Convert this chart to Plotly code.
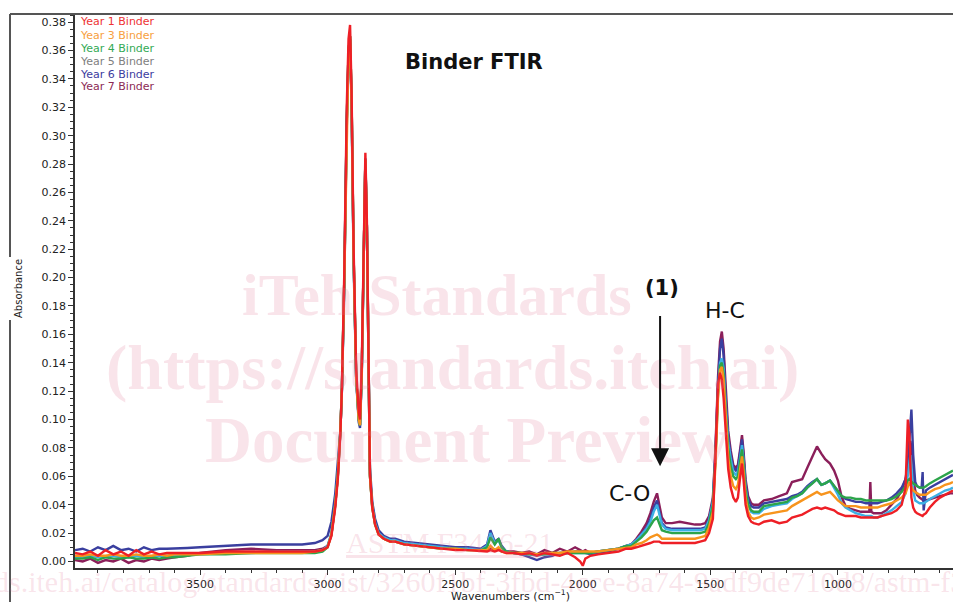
import plotly.graph_objects as go

# ---------------- data ----------------
wavenumber = [
    3990, 3960, 3930, 3900, 3870, 3840, 3810, 3780, 3750, 3720, 3690, 3660, 3630, 3600,
    3550, 3500, 3400, 3300, 3200, 3100, 3050, 3020,
    3000, 2985, 2970, 2960, 2950, 2944, 2935, 2925, 2918, 2912, 2906, 2898, 2888, 2878, 2873, 2866, 2858, 2852,
    2846, 2840, 2834, 2825, 2814, 2800, 2780, 2755, 2735, 2700, 2650, 2600, 2550, 2500, 2450, 2400,
    2375, 2362, 2345, 2330, 2318, 2300,
    2270, 2240, 2210, 2180, 2150, 2120, 2090, 2060, 2030, 2010, 2000, 1990, 1970, 1940, 1900, 1860, 1830,
    1810, 1790, 1770, 1750, 1735, 1722, 1709, 1700, 1690, 1675, 1650, 1620, 1590, 1560, 1540, 1520, 1505,
    1490, 1480, 1470, 1462, 1455, 1448, 1440, 1430, 1420, 1410, 1400, 1392, 1384, 1376, 1370, 1362, 1352, 1340, 1330,
    1310, 1290, 1260, 1230, 1200, 1180, 1160, 1140, 1120, 1100, 1082, 1065, 1050, 1031, 1015, 1000, 985, 970,
    950, 930, 910, 890, 877, 873, 869, 860, 845, 830, 810, 790, 770, 750, 735, 726, 720, 716, 712, 705, 697,
    690, 680, 672, 668, 664, 655, 640, 620, 600, 580, 560, 549,
]

year1 = [
    .006, .005, .007, .004, .008, .005, .007, .004, .008, .005, .007, .005, .006, .006,
    .006, .006, .007, .007, .007, .007, .007, .008,
    .010, .018, .038, .058, .090, .122, .200, .320, .368, .378, .330, .220, .135, .105, .100, .140, .235, .288,
    .240, .150, .062, .038, .026, .019, .016, .014, .014, .012, .011, .010, .009, .008, .008, .007,
    .007, .008, .007, .008, .007, .006,
    .006, .005, .006, .004, .006, .005, .004, .006, .003, .000, -.003, .002, .004, .005, .006, .007, .009,
    .009, .010, .011, .012, .013, .014, .014, .014, .013, .013, .013, .013, .013, .013, .014, .015, .020,
    .030, .075, .125, .133, .128, .115, .090, .065, .052, .045, .042, .045, .058, .069, .058, .040, .032, .028, .027,
    .026, .028, .029, .027, .028, .031, .032, .033, .035, .037, .038, .037, .038, .037, .036, .034, .033, .032,
    .032, .032, .031, .031, .031, .031, .031, .031, .031, .032, .033, .034, .036, .040, .052, .100, .090, .060, .045, .038, .035,
    .034, .033, .032, .032, .033, .034, .038, .042, .045, .047, .049, .050,
]

year3 = [
    .004, .004, .005, .004, .004, .005, .004, .004, .005, .004, .004, .005, .004, .005,
    .005, .005, .006, .006, .006, .006, .007, .008,
    .010, .019, .040, .060, .092, .122, .195, .310, .360, .370, .325, .215, .130, .100, .096, .135, .230, .283,
    .235, .145, .060, .038, .026, .019, .016, .014, .014, .012, .011, .010, .009, .009, .008, .008,
    .008, .011, .008, .010, .007, .006,
    .006, .006, .006, .005, .006, .006, .006, .007, .007, .007, .007, .007, .007, .007, .008, .009, .010,
    .010, .012, .013, .015, .017, .018, .019, .018, .016, .016, .016, .016, .016, .016, .017, .018, .024,
    .035, .068, .115, .135, .137, .128, .100, .073, .060, .053, .051, .054, .064, .074, .064, .045, .035, .031, .030,
    .031, .033, .034, .035, .036, .039, .041, .043, .045, .047, .049, .047, .048, .049, .046, .043, .041, .039,
    .039, .039, .038, .038, .038, .038, .038, .038, .038, .039, .040, .041, .043, .045, .048, .052, .056, .054, .052, .050, .049,
    .048, .047, .047, .047, .047, .047, .049, .051, .052, .054, .055, .056,
]

year4 = [
    .002, .002, .003, .001, .003, .002, .002, .003, .002, .002, .003, .002, .003, .003,
    .004, .005, .005, .006, .006, .006, .006, .007,
    .010, .019, .040, .060, .092, .122, .195, .310, .360, .370, .325, .215, .130, .100, .096, .135, .230, .283,
    .235, .145, .060, .038, .026, .019, .016, .014, .014, .012, .011, .010, .009, .009, .008, .008,
    .010, .017, .012, .016, .010, .007,
    .006, .006, .005, .005, .005, .006, .006, .006, .006, .006, .006, .006, .006, .007, .008, .009, .011,
    .011, .014, .017, .021, .025, .029, .031, .027, .022, .021, .020, .020, .020, .020, .020, .021, .027,
    .040, .072, .118, .138, .140, .132, .106, .080, .067, .060, .058, .060, .070, .079, .069, .050, .040, .036, .035,
    .035, .039, .040, .041, .042, .045, .046, .048, .052, .055, .058, .054, .055, .057, .053, .050, .046, .045,
    .045, .044, .044, .043, .043, .043, .043, .043, .043, .043, .043, .044, .046, .049, .053, .057, .058, .057, .056, .055, .054,
    .053, .052, .052, .052, .052, .053, .055, .057, .059, .061, .063, .064,
]

year5 = [
    .003, .003, .004, .003, .003, .004, .003, .003, .004, .003, .003, .004, .004, .004,
    .005, .005, .006, .006, .007, .007, .007, .008,
    .011, .020, .041, .061, .092, .122, .195, .310, .360, .370, .325, .215, .130, .100, .096, .135, .230, .283,
    .235, .146, .061, .039, .027, .020, .017, .015, .015, .013, .012, .011, .010, .009, .009, .008,
    .011, .020, .013, .015, .010, .007,
    .006, .005, .005, .004, .005, .005, .005, .006, .006, .006, .006, .006, .006, .007, .008, .009, .011,
    .012, .015, .019, .023, .028, .035, .040, .033, .026, .023, .022, .022, .022, .022, .022, .023, .029,
    .042, .074, .120, .140, .143, .136, .110, .084, .072, .063, .061, .063, .072, .082, .071, .052, .040, .035, .034,
    .034, .037, .039, .040, .041, .044, .046, .048, .052, .055, .058, .054, .055, .057, .052, .047, .041, .038,
    .036, .034, .033, .032, .032, .032, .032, .031, .031, .032, .034, .036, .039, .042, .048, .060, .070, .075, .068, .050, .043,
    .042, .041, .041, .041, .041, .042, .044, .046, .048, .050, .051, .052,
]

year6 = [
    .008, .009, .007, .010, .008, .011, .008, .009, .007, .010, .008, .009, .009, .009,
    .0095, .010, .011, .012, .012, .012, .013, .015,
    .018, .028, .048, .068, .092, .120, .190, .305, .355, .368, .320, .210, .128, .098, .094, .132, .225, .284,
    .236, .148, .066, .042, .030, .022, .018, .016, .016, .014, .013, .012, .011, .010, .010, .009,
    .012, .022, .014, .016, .011, .007,
    .006, .005, .003, .001, .003, .004, .006, .006, .007, .007, .007, .006, .005, .006, .007, .009, .011,
    .012, .015, .019, .024, .030, .038, .043, .035, .027, .024, .023, .023, .023, .023, .023, .024, .030,
    .043, .076, .125, .150, .157, .145, .116, .088, .075, .066, .064, .066, .076, .086, .075, .055, .044, .039, .038,
    .038, .041, .042, .043, .044, .046, .047, .049, .053, .056, .058, .054, .055, .057, .053, .050, .046, .044,
    .043, .042, .042, .041, .041, .041, .041, .041, .041, .042, .043, .045, .048, .052, .058, .070, .085, .095, .107, .075, .056,
    .053, .052, .052, .063, .036, .050, .052, .054, .056, .058, .060, .061,
]

year7 = [
    .001, .000, .002, -.001, .001, .000, .002, -.001, .001, .000, .002, .001, .002, .003,
    .004, .006, .008, .009, .008, .008, .008, .009,
    .011, .019, .040, .060, .091, .121, .195, .310, .360, .370, .325, .215, .130, .100, .096, .135, .230, .283,
    .235, .145, .060, .039, .027, .020, .017, .015, .015, .013, .012, .011, .010, .009, .009, .008,
    .008, .010, .008, .009, .007, .007,
    .007, .006, .007, .005, .008, .006, .009, .007, .010, .008, .007, .008, .006, .007, .008, .009, .011,
    .012, .016, .021, .027, .034, .042, .048, .040, .031, .027, .027, .028, .027, .026, .026, .027, .032,
    .045, .080, .130, .155, .162, .150, .120, .092, .078, .068, .066, .068, .078, .089, .078, .058, .046, .041, .040,
    .040, .043, .044, .046, .048, .056, .057, .058, .066, .074, .081, .076, .072, .069, .064, .057, .045, .039,
    .037, .036, .035, .035, .035, .056, .035, .034, .034, .034, .036, .040, .044, .050, .058, .065, .078, .085, .080, .058, .050,
    .047, .045, .044, .044, .043, .043, .044, .045, .046, .047, .048, .048,
]

series_names = ["Year 1 Binder", "Year 3 Binder", "Year 4 Binder",
                "Year 5 Binder", "Year 6 Binder", "Year 7 Binder"]
series_values = [year1, year3, year4, year5, year6, year7]
line_colors = ["#ee1f26", "#f7941d", "#2ca44a", "#3cb0e4", "#3a3f9f", "#8b1f5a"]
label_colors = ["#ee3333", "#f7a040", "#33aa55", "#808080", "#3c3ca0", "#8c2a55"]

x_ticks = [3500, 3000, 2500, 2000, 1500, 1000]
y_ticks = [round(0.02 * i, 2) for i in range(20)]

for v in series_values:
    assert len(v) == len(wavenumber), (len(v), len(wavenumber))

# ---------------- figure ----------------
FONT = "DejaVu Sans"
fig = go.Figure()

draw_order = [5, 4, 3, 2, 1, 0]
for i in draw_order:
    fig.add_trace(go.Scatter(
        x=wavenumber, y=series_values[i], mode="lines", name=series_names[i],
        line=dict(color=line_colors[i], width=2.4), showlegend=False,
        hoverinfo="skip"))

# plot area in pixels: left 75, right 953, top 15, bottom 568
L, R, T, B = 75, 953, 15, 568
W, H = R - L, B - T
def px(x):
    return (x - L) / W
def py(y):
    return (B - y) / H

annotations = []
# watermark
wm = "rgba(226,120,150,0.20)"
for text, cx, cy, sz in [("iTeh Standards", 437, 295, 60),
                         ("(https://standards.iteh.ai)", 452, 368, 64),
                         ("Document Preview", 467, 440, 65)]:
    annotations.append(dict(xref="paper", yref="paper", x=px(cx), y=py(cy), xanchor="center",
                            yanchor="middle", text="<b>" + text + "</b>",
                            showarrow=False, font=dict(family="Liberation Serif", size=sz, color=wm)))
annotations.append(dict(xref="paper", yref="paper", x=px(450), y=py(542), xanchor="center",
                        yanchor="middle", text="<u>ASTM F3416-21</u>",
                        showarrow=False, font=dict(family="Liberation Serif", size=30, color=wm)))
annotations.append(dict(xref="paper", yref="paper", x=px(-178), y=py(581), xanchor="left",
                        yanchor="middle",
                        text="https://standards.iteh.ai/catalog/standards/sist/3260f1bf-3fbd-4cce-8a74-9adf9de710d8/astm-f3416-21",
                        showarrow=False, font=dict(family="Liberation Serif", size=30, color=wm)))

# legend as coloured text
for k, (name, col) in enumerate(zip(series_names, label_colors)):
    annotations.append(dict(xref="paper", yref="paper", x=px(78), y=py(22 + 13 * k), xanchor="left",
                            yanchor="middle", text=name, showarrow=False,
                            font=dict(family=FONT, size=11, color=col)))

# title
annotations.append(dict(xref="paper", yref="paper", x=px(474), y=py(62), xanchor="center",
                        yanchor="middle", text="<b>Binder FTIR</b>",
                        showarrow=False, font=dict(family=FONT, size=21, color="#111")))
# peak labels
annotations.append(dict(x=1443, y=0.177, xref="x", yref="y", text="H-C", showarrow=False,
                        font=dict(family=FONT, size=22, color="#111")))
annotations.append(dict(x=1815, y=0.048, xref="x", yref="y", text="C-O", showarrow=False,
                        font=dict(family=FONT, size=22, color="#111")))
annotations.append(dict(x=1690, y=0.193, xref="x", yref="y", text="<b>(1)</b>", showarrow=False,
                        font=dict(family=FONT, size=21, color="#111")))
annotations.append(dict(x=1697, y=0.067, ax=1697, ay=0.174, xref="x", yref="y", axref="x", ayref="y",
                        text="", showarrow=True, arrowhead=2, arrowsize=1.8, arrowwidth=2,
                        arrowcolor="#111"))
# axis titles
annotations.append(dict(xref="paper", yref="paper", x=px(18), y=py(288), xanchor="center",
                        yanchor="middle", text="Absorbance",
                        textangle=-90, showarrow=False, bgcolor="white",
                        font=dict(family=FONT, size=10, color="#222")))
annotations.append(dict(xref="paper", yref="paper", x=px(510), y=py(595), xanchor="center",
                        yanchor="middle",
                        text="Wavenumbers (cm<sup>−1</sup>)", showarrow=False,
                        font=dict(family=FONT, size=11, color="#222")))

shapes = [
    dict(type="line", xref="paper", yref="paper", x0=px(10), x1=px(953), y0=py(14), y1=py(14),
         line=dict(color="#555", width=2)),
    dict(type="line", xref="paper", yref="paper", x0=px(10), x1=px(10), y0=py(14), y1=py(257),
         line=dict(color="#555", width=2)),
    dict(type="line", xref="paper", yref="paper", x0=px(10), x1=px(10), y0=py(320), y1=py(602),
         line=dict(color="#555", width=2)),
]

fig.update_layout(
    width=953, height=602,
    margin=dict(l=L, r=953 - R, t=T, b=602 - B),
    paper_bgcolor="white", plot_bgcolor="white",
    annotations=annotations, shapes=shapes,
    xaxis=dict(range=[3990, 549], tickvals=x_ticks, ticktext=[str(t) for t in x_ticks],
               ticks="outside", ticklen=5, tickwidth=1, tickcolor="#333",
               minor=dict(dtick=100, ticks="outside", ticklen=3, tickcolor="#333"),
               showgrid=False, zeroline=False, showline=True, linecolor="#333", linewidth=1.5,
               tickfont=dict(family=FONT, size=11, color="#222")),
    yaxis=dict(range=[-0.0046, 0.385], tickvals=y_ticks, tickformat=".2f",
               ticks="outside", ticklen=5, tickwidth=1, tickcolor="#333",
               minor=dict(dtick=0.005, ticks="outside", ticklen=3, tickcolor="#333"),
               showgrid=False, zeroline=False, showline=True, linecolor="#333", linewidth=1.5,
               tickfont=dict(family=FONT, size=11, color="#222")),
)

fig.write_html("out.html", config={"displayModeBar": False},
               post_script="document.body.style.margin='0';")
